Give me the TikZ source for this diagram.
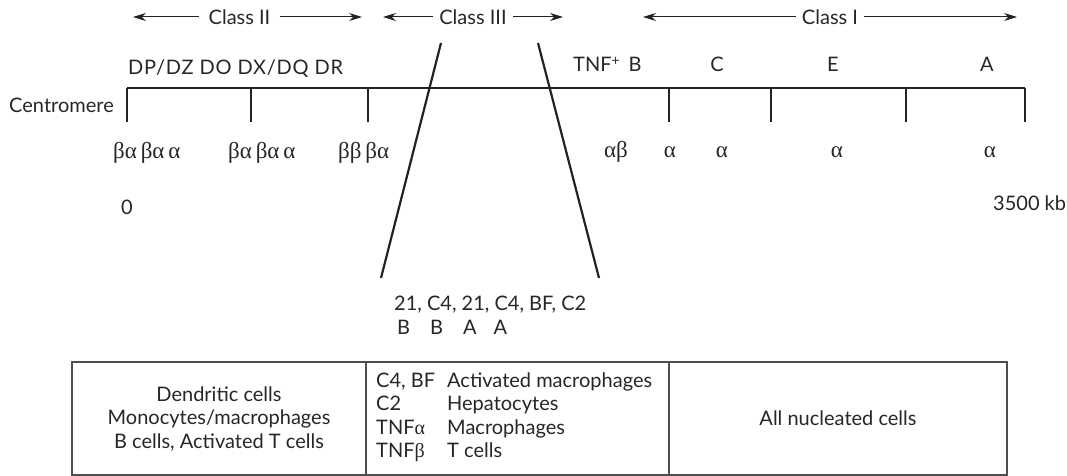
\documentclass[tikz,border=0pt]{standalone}
\usepackage{fontspec}
\setmainfont{Lato}
\newfontfamily\grk{Liberation Serif}
\newfontfamily\wide[LetterSpace=4]{Lato}
\usetikzlibrary{arrows.meta}
\definecolor{txt}{HTML}{262626}
\definecolor{ln}{HTML}{222222}
\tikzset{
  lbl/.style={inner sep=0pt, text=txt, font=\fontsize{20}{23.5}\selectfont},
  cls/.style={lbl, inner xsep=7pt},
  gk/.style={inner sep=0pt, text=txt, font=\grk\fontsize{23}{24}\selectfont},
  rng/.style={draw=ln, line width=1pt, -{Stealth[length=13pt,width=8pt]}},
  chrom/.style={draw=ln, line width=1.3pt},
  zoomline/.style={draw=ln, line width=2.2pt},
  cell/.style={draw=ln!80!white, line width=1.2pt, minimum height=113pt, inner sep=0pt, text=txt,
    font=\fontsize{20}{23.5}\selectfont, align=center}
}
\begin{document}
\begin{tikzpicture}[x=1pt,y=-1pt]
\useasboundingbox (0,0) rectangle (1067,476);
% class range arrows
\node[cls, inner xsep=9pt] (c2) at (239.5,17) {Class II};
\coordinate (c2l) at (133,17); \coordinate (c2r) at (362,17);
\draw[rng] (c2.west) -- (c2l);
\draw[rng] (c2.east) -- (c2r);
\node[cls, inner xsep=6pt] (c3) at (473,17) {Class III};
\coordinate (c3l) at (383,17); \coordinate (c3r) at (563,17);
\draw[rng] (c3.west) -- (c3l);
\draw[rng] (c3.east) -- (c3r);
\node[cls, inner xsep=6pt] (c1) at (830,17) {Class I};
\coordinate (c1l) at (643,17); \coordinate (c1r) at (1017,17);
\draw[rng] (c1.west) -- (c1l);
\draw[rng] (c1.east) -- (c1r);
% gene labels
\node[lbl, anchor=base west, font=\wide\fontsize{20}{23.5}\selectfont] (g2) at (128,75) {DP/DZ DO DX/DQ DR};
\node[lbl, anchor=base west] (gtnf) at (573,72) {TNF\raisebox{6pt}{\fontsize{14}{14}\selectfont +}\hspace{9pt}B};
\node[lbl, anchor=base] (gc) at (717,72) {C};
\node[lbl, anchor=base] (ge) at (833,72) {E};
\node[lbl, anchor=base] (ga) at (987,72) {A};
\node[lbl, anchor=base east] (cen) at (114,113) {Centromere};
% chromosome
\coordinate (t0) at (127,88);
\coordinate (t7) at (1025,88);
\draw[chrom] (t0) -- (t7);
\foreach \x/\n in {127/a,251/b,368/c,669/d,771/e,906/f,1025/g}{
  \coordinate (top\n) at (\x,88);
  \coordinate (bot\n) at (\x,122);
  \draw[chrom] (top\n) -- (bot\n);
}
% greek chains
\node[gk, anchor=base west] (k1) at (113,158) {βα\,βα\,α};
\node[gk, anchor=base west] (k2) at (228,158) {βα\,βα\,α};
\node[gk, anchor=base west] (k3) at (338,158) {ββ\,βα};
\node[gk, anchor=base] (k4) at (616,157) {αβ};
\node[gk, anchor=base] (k5) at (670,157) {α};
\node[gk, anchor=base] (k6) at (722,157) {α};
\node[gk, anchor=base] (k7) at (837,157) {α};
\node[gk, anchor=base] (k8) at (990,157) {α};
% scale
\node[lbl, anchor=base] (zero) at (127,214) {0};
\node[lbl, anchor=base west] (kb) at (993,210) {3500 kb};
% zoom lines
\coordinate (zl1) at (441,43); \coordinate (zl2) at (381,278);
\coordinate (zr1) at (538,43); \coordinate (zr2) at (599,278);
\draw[zoomline] (zl1) -- (zl2);
\draw[zoomline] (zr1) -- (zr2);
\node[lbl, anchor=base west] (c3genes) at (394,310) {21, C4, 21, C4, BF, C2};
\node[lbl, anchor=base west] (c3sub) at (397,334) {B\hspace{20pt}B\hspace{20pt}A\hspace{17pt}A};
% table
\node[cell, minimum width=294pt] (t1) at (219,418.5) {Dendritic cells\\Monocytes/macrophages\\B cells, Activated T cells};
\node[cell, minimum width=303pt] (t2) at (517.5,418.5) {};
\node[cell, minimum width=338pt] (t3) at (838,418.5) {All nucleated cells};
\node[lbl, anchor=base west] (r1a) at (376,387) {C4, BF};
\node[lbl, anchor=base west] (r1b) at (447,387) {Activated macrophages};
\node[lbl, anchor=base west] (r2a) at (376,410.5) {C2};
\node[lbl, anchor=base west] (r2b) at (447,410.5) {Hepatocytes};
\node[lbl, anchor=base west] (r3a) at (376,434) {TNF{\grk α}};
\node[lbl, anchor=base west] (r3b) at (447,434) {Macrophages};
\node[lbl, anchor=base west] (r4a) at (376,457.5) {TNF{\grk β}};
\node[lbl, anchor=base west] (r4b) at (447,457.5) {T cells};
\end{tikzpicture}
\end{document}
